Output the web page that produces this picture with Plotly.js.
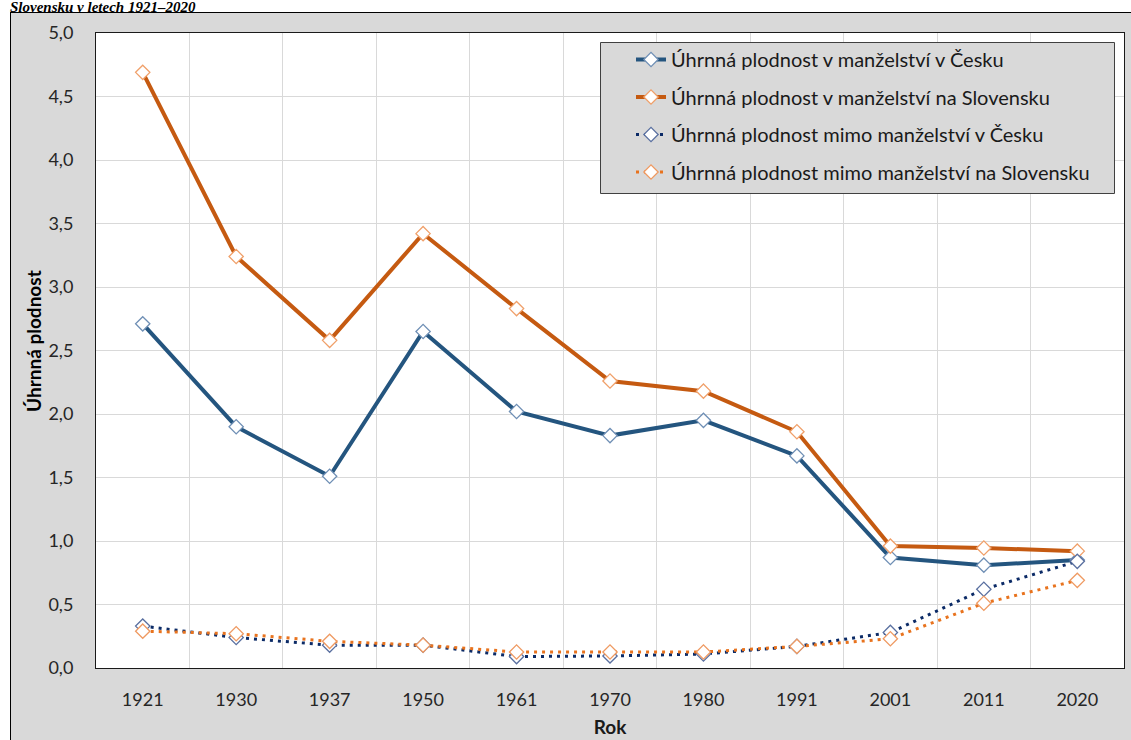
<!DOCTYPE html>
<html>
<head>
<meta charset="utf-8">
<script src="https://cdn.plot.ly/plotly-3.0.1.min.js"></script>
<style>html,body{margin:0;padding:0;background:#fff;}#chart{width:1131px;height:740px;}</style>
</head>
<body>
<div id="chart"></div>
<script>
var years = ['1921','1930','1937','1950','1961','1970','1980','1991','2001','2011','2020'];
var czMarried = [2.71, 1.90, 1.51, 2.65, 2.02, 1.83, 1.95, 1.67, 0.87, 0.81, 0.85];
var skMarried = [4.69, 3.24, 2.58, 3.42, 2.83, 2.26, 2.18, 1.86, 0.96, 0.945, 0.92];
var czUnmarried = [0.33, 0.24, 0.18, 0.18, 0.09, 0.095, 0.11, 0.17, 0.28, 0.62, 0.84];
var skUnmarried = [0.29, 0.27, 0.21, 0.18, 0.126, 0.126, 0.126, 0.17, 0.23, 0.51, 0.69];
var seriesNames = [
  'Úhrnná plodnost v manželství v Česku',
  'Úhrnná plodnost v manželství na Slovensku',
  'Úhrnná plodnost mimo manželství v Česku',
  'Úhrnná plodnost mimo manželství na Slovensku'
];
var titleText = 'Slovensku v letech 1921–2020';
var yTitle = 'Úhrnná plodnost';
var xTitle = 'Rok';

var FONT = 'Lato, "Open Sans", sans-serif';

function mk(name, y, lineColor, markerColor, dash, width, grp) {
  return {
    type: 'scatter', mode: 'lines+markers', name: name, x: years, y: y,
    legendgroup: grp,
    line: {color: lineColor, width: width, dash: dash},
    marker: {symbol: 'diamond', size: 11, color: '#ffffff', line: {color: markerColor, width: 1.3}}
  };
}

var traces = [
  mk(seriesNames[0], czMarried, '#24557f', '#6f8fb5', 'solid', 4, 'a'),
  mk(seriesNames[1], skMarried, '#c55a11', '#f0a06a', 'solid', 4, 'b'),
  mk(seriesNames[2], czUnmarried, '#0b2a66', '#5a70a0', '3px,5px', 3, 'c'),
  mk(seriesNames[3], skUnmarried, '#e8731e', '#ef9a62', '3px,5px', 3, 'd')
];

var pl = 96, pr = 1124, pt = 33, pb = 668;
function px(x){ return (x - pl) / (pr - pl); }
function py(y){ return (pb - y) / (pb - pt); }

var layout = {
  width: 1131, height: 740,
  margin: {l: pl, r: 1131 - pr, t: pt, b: 740 - pb, pad: 0},
  paper_bgcolor: '#d9d9d9',
  plot_bgcolor: '#ffffff',
  font: {family: FONT, size: 18, color: '#262626'},
  showlegend: true,
  legend: {
    x: px(631), y: py(40), xanchor: 'left', yanchor: 'top',
    bgcolor: 'rgba(0,0,0,0)', borderwidth: 0,
    traceorder: 'grouped', tracegroupgap: 8.5,
    font: {family: FONT, size: 20, color: '#1a1a1a'}
  },
  xaxis: {
    type: 'category', range: [-0.5, 10.5], tickson: 'boundaries',
    showgrid: true, gridcolor: '#d9d9d9', gridwidth: 1,
    showline: true, linecolor: '#1a1a1a', linewidth: 1, mirror: true,
    ticks: '', ticklabelstandoff: 15, automargin: false, zeroline: false,
    tickfont: {family: FONT, size: 18, color: '#262626'},
    title: {text: xTitle, standoff: 12, font: {family: FONT, size: 19, color: '#1a1a1a', weight: 'bold'}}
  },
  yaxis: {
    range: [0, 5], dtick: 0.5, tick0: 0, tickformat: '.1f',
    showgrid: true, gridcolor: '#d9d9d9', gridwidth: 1,
    showline: true, linecolor: '#1a1a1a', linewidth: 1, mirror: true,
    ticks: '', ticklabelstandoff: 18, automargin: false, zeroline: false,
    tickfont: {family: FONT, size: 18, color: '#262626'}
  },
  separators: ',.',
  shapes: [
    {type: 'rect', xref: 'paper', yref: 'paper', x0: px(-5), x1: px(1140), y0: py(12), y1: py(-20), fillcolor: '#ffffff', line: {width: 0}},
    {type: 'rect', xref: 'paper', yref: 'paper', x0: px(-5), x1: px(10), y0: py(760), y1: py(12), fillcolor: '#ffffff', line: {width: 0}},
    {type: 'line', xref: 'paper', yref: 'paper', x0: px(10), x1: px(1140), y0: py(12.5), y1: py(12.5), line: {color: '#000', width: 1}},
    {type: 'line', xref: 'paper', yref: 'paper', x0: px(10.5), x1: px(10.5), y0: py(12), y1: py(760), line: {color: '#000', width: 1}},
    {type: 'rect', xref: 'paper', yref: 'paper', layer: 'above', x0: px(600.5), x1: px(1114.5), y0: py(193.5), y1: py(42.5), fillcolor: '#d9d9d9', line: {color: '#404040', width: 1}}
  ],
  annotations: [
    {text: '<b><i>' + titleText + '</i></b>', xref: 'paper', yref: 'paper', x: px(8), y: py(7.5), xanchor: 'left', yanchor: 'middle',
     showarrow: false, font: {family: '"Liberation Serif", "Times New Roman", serif', size: 15, color: '#000'}},
    {text: yTitle, xref: 'paper', yref: 'paper', x: px(33), y: py(341), xanchor: 'center', yanchor: 'middle', textangle: -90,
     showarrow: false, font: {family: FONT, size: 19, color: '#000', weight: 'bold'}}
  ]
};

Plotly.newPlot('chart', traces, layout, {displayModeBar: false, staticPlot: true});
</script>
</body>
</html>
